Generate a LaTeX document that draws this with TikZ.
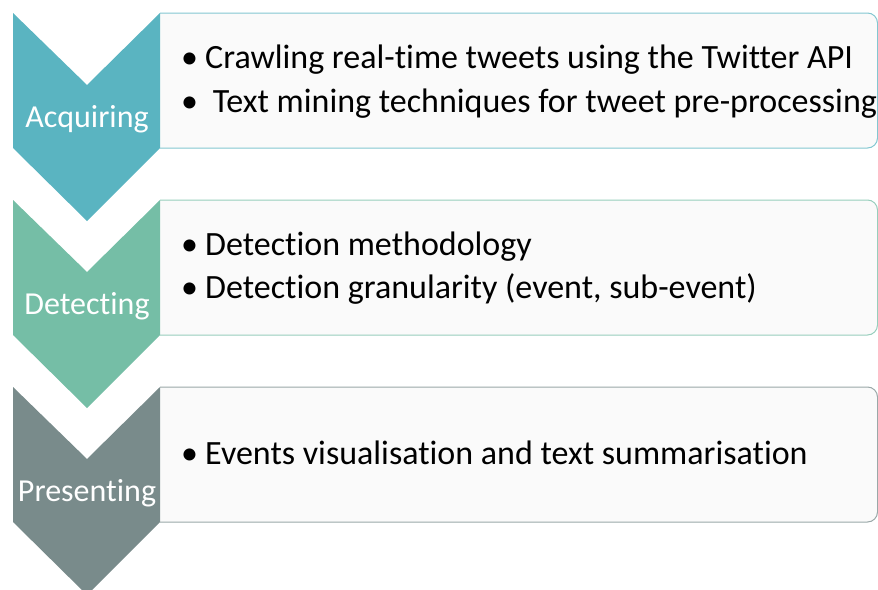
\documentclass[tikz,border=0pt]{standalone}
\usepackage{fontspec}
\setmainfont{Carlito}[Ligatures=NoCommon]
\definecolor{acqcol}{RGB}{90,180,193}
\definecolor{detcol}{RGB}{117,190,166}
\definecolor{precol}{RGB}{121,139,139}
\definecolor{boxfill}{RGB}{250,250,250}
\begin{document}
\begin{tikzpicture}[x=1pt,y=-1pt,
  stagelabel/.style={anchor=base,text=white,font=\fontsize{32}{36}\selectfont,inner sep=0pt},
  itemline/.style={anchor=base west,text=black,font=\fontsize{34}{38}\selectfont,inner sep=0pt},
  infobox/.style={fill=boxfill,line width=1pt,rounded corners=10pt}]
\useasboundingbox (0,0) rectangle (878,589);
\clip (0,0) rectangle (878,589);

% one stage: chevron, its box and its label
% #1 top, #2 colour, #3 name, #4 label
\newcommand{\stageshape}[4]{%
  \draw[infobox,draw=#2!75!white] (160,#1) -- (877.5,#1) -- (877.5,#1+135) -- (160,#1+135);
  \fill[#2] (13,#1) -- (87,#1+72) -- (160,#1) -- (160,#1+135) -- (87,#1+208) -- (13,#1+135) -- cycle;
  \node[stagelabel] (#3) at (87,#1+114) {#4};
}

\stageshape{13}{acqcol}{acquiring}{Acquiring}
\stageshape{200}{detcol}{detecting}{Detecting}
\stageshape{387}{precol}{presenting}{Presenting}

\node[itemline] (a1) at (181,68) {\makebox[24pt][l]{•}Crawling real-time tweets using the Twitter API};
\node[itemline] (a2) at (181,112) {\makebox[24pt][l]{•} Text mining techniques for tweet pre-processing};
\node[itemline] (d1) at (181,255) {\makebox[24pt][l]{•}Detection methodology};
\node[itemline] (d2) at (181,298) {\makebox[24pt][l]{•}Detection granularity (event, sub-event)};
\node[itemline] (p1) at (181,464) {\makebox[24pt][l]{•}Events visualisation and text summarisation};
\end{tikzpicture}
\end{document}
